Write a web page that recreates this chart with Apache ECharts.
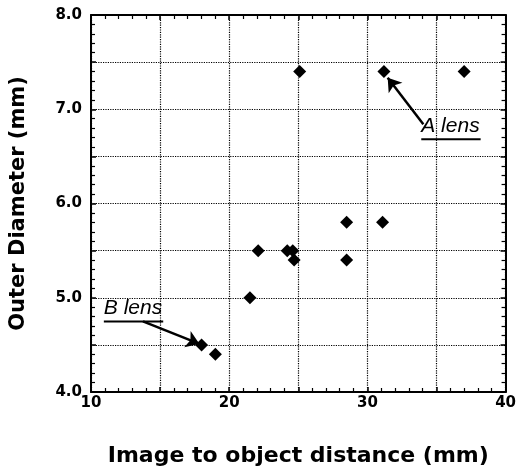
<!DOCTYPE html>
<html>
<head>
<meta charset="utf-8">
<script src="https://cdn.jsdelivr.net/npm/echarts@6/dist/echarts.min.js"></script>
<style>
  html, body { margin: 0; padding: 0; background: #fff; }
  #chart { width: 519px; height: 472px; }
</style>
</head>
<body>
<div id="chart"></div>
<script>
// measured points: image-to-object distance (mm) vs outer diameter (mm)
var distance = [25.1, 31.2, 37.0, 28.5, 31.1, 22.1, 24.2, 24.6, 24.7, 28.5, 21.5, 18.0, 19.0];
var diameter = [7.4, 7.4, 7.4, 5.8, 5.8, 5.5, 5.5, 5.5, 5.4, 5.4, 5.0, 4.5, 4.4];

// annotations (data coords): arrow tail, arrow tip, text anchor
var noteNames = ['A lens', 'B lens'];
var noteTail = [[34.05, 6.84], [13.76, 4.75]];
var noteTip = [[31.47, 7.335], [17.85, 4.51]];
var noteText = [[33.9, 6.713], [10.93, 4.78]];

var font = 'DejaVu Sans';
var noteFont = 'italic 21px "Liberation Sans"';

var points = distance.map(function (d, i) { return [d, diameter[i]]; });

var myChart = echarts.init(document.getElementById('chart'), null, { renderer: 'canvas' });

function mainAxis(extra) {
    return Object.assign({
        type: 'value',
        axisLine: { show: true, onZero: false, lineStyle: { color: '#000', width: 2 } },
        axisTick: { show: true, inside: true, length: 5, lineStyle: { color: '#000', width: 1.5 } },
        minorTick: { show: true, splitNumber: 5, length: 4, lineStyle: { color: '#000', width: 1.2 } },
        splitLine: { show: false },
        axisLabel: { show: false }
    }, extra);
}

var option = {
    backgroundColor: '#fff',
    animation: false,
    grid: { left: 89.5, right: 11.5, top: 15, bottom: 77.7 },
    xAxis: [
        mainAxis({
            min: 10, max: 40, interval: 5, position: 'bottom',
            splitLine: { show: true, lineStyle: { color: '#000', type: 'dotted', width: 1.2 } },
            axisLabel: {
                show: true, color: '#000', fontFamily: font, fontWeight: 'bold', fontSize: 15, margin: 4,
                formatter: function (v) { return v % 10 === 0 ? String(v) : ''; }
            },
            name: 'Image to object distance (mm)',
            nameLocation: 'middle', nameGap: 53,
            nameTextStyle: { color: '#000', fontFamily: font, fontWeight: 'bold', fontSize: 22 }
        }),
        mainAxis({ min: 10, max: 40, interval: 5, position: 'top' })
    ],
    yAxis: [
        mainAxis({
            min: 4, max: 8, interval: 0.5, position: 'left',
            splitLine: { show: true, lineStyle: { color: '#000', type: 'dotted', width: 1.2 } },
            axisLabel: {
                show: true, color: '#000', fontFamily: font, fontWeight: 'bold', fontSize: 15, margin: 9,
                formatter: function (v) { return Math.abs(v - Math.round(v)) < 1e-6 ? v.toFixed(1) : ''; }
            },
            name: 'Outer Diameter (mm)',
            nameLocation: 'middle', nameGap: 62,
            nameTextStyle: { color: '#000', fontFamily: font, fontWeight: 'bold', fontSize: 21 }
        }),
        mainAxis({ min: 4, max: 8, interval: 0.5, position: 'right' })
    ],
    series: [{
        type: 'scatter',
        data: points,
        symbol: 'diamond',
        symbolSize: 13,
        itemStyle: { color: '#000', opacity: 1 },
        emphasis: { disabled: true },
        markLine: {
            silent: true,
            symbol: ['none', 'arrow'],
            symbolSize: 13,
            label: { show: false },
            lineStyle: { color: '#000', width: 2.5, type: 'solid', opacity: 1 },
            data: noteTail.map(function (t, i) {
                return [{ coord: t }, { coord: noteTip[i] }];
            })
        }
    }]
};

myChart.setOption(option);

// text labels with underline, placed from data coords
var ctx = document.createElement('canvas').getContext('2d');
ctx.font = noteFont;
var graphics = [];
noteNames.forEach(function (name, i) {
    var p = myChart.convertToPixel({ seriesIndex: 0 }, noteText[i]);
    var w = ctx.measureText(name).width;
    graphics.push({
        type: 'text',
        x: p[0], y: p[1],
        style: {
            text: name, fill: '#000', font: noteFont,
            textAlign: 'left', textVerticalAlign: 'bottom'
        }
    });
    graphics.push({
        type: 'line',
        shape: { x1: p[0], y1: p[1] + 3, x2: p[0] + w + 1, y2: p[1] + 3 },
        style: { stroke: '#000', lineWidth: 2 }
    });
});
myChart.setOption({ graphic: graphics });
</script>
</body>
</html>
